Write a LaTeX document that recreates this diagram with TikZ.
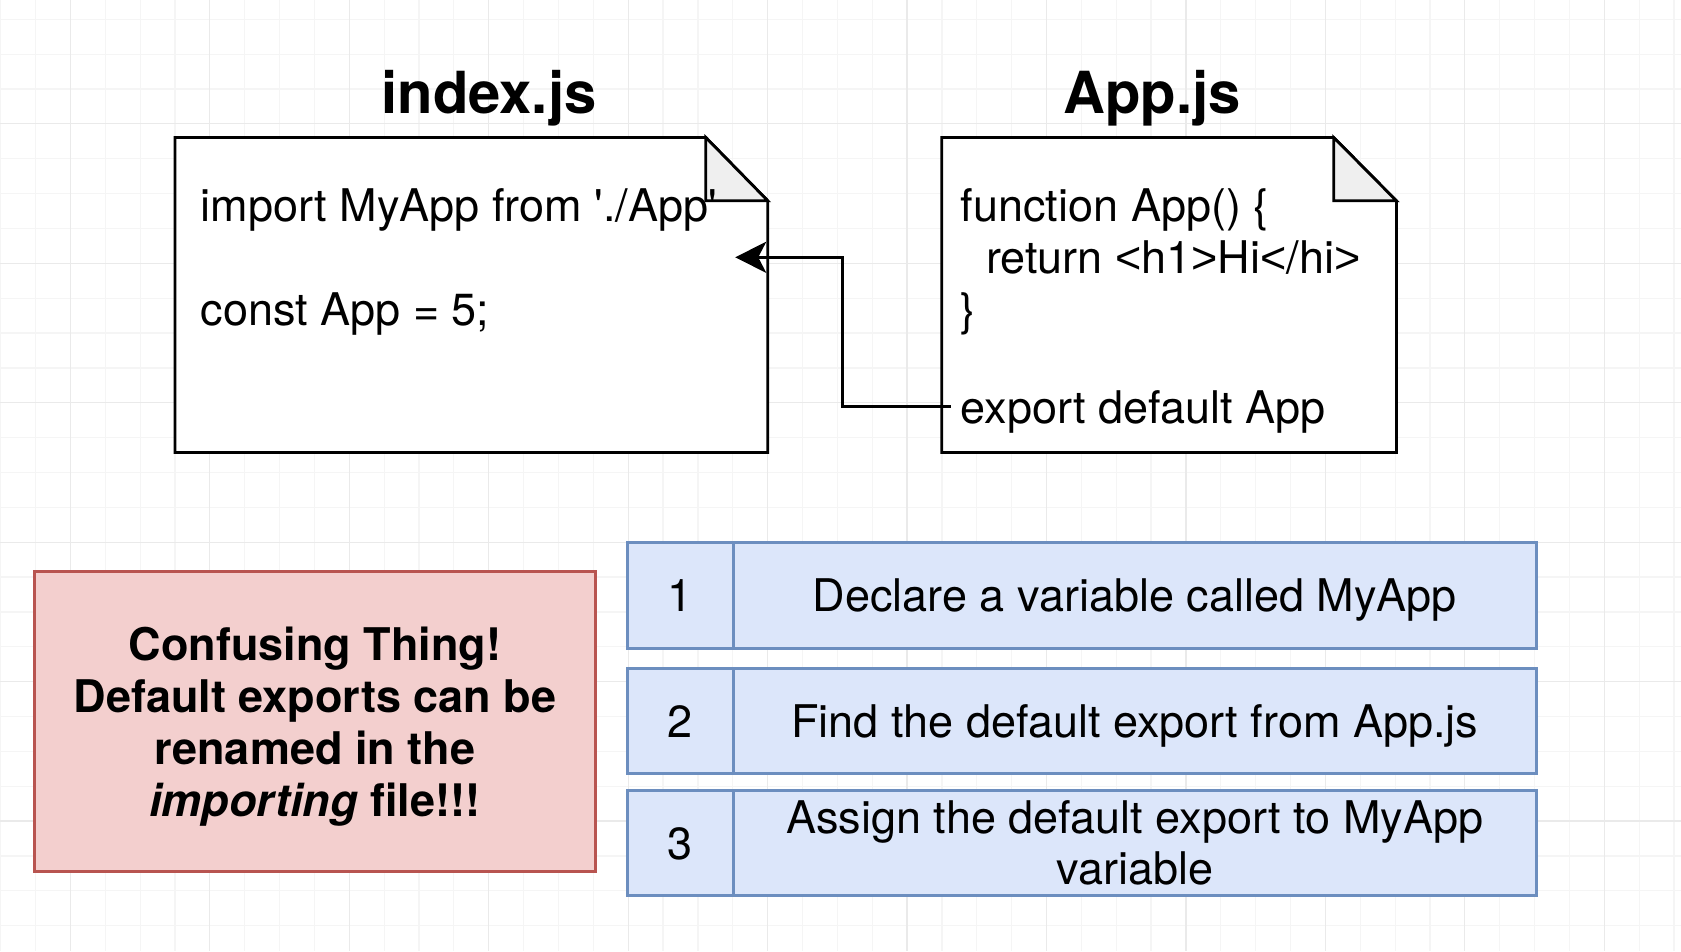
\documentclass[tikz,border=0pt]{standalone}
\usepackage{fontspec}
\setmainfont{TeX Gyre Heros}
\newfontfamily\libsans{Liberation Sans}
\usetikzlibrary{arrows.meta}
\definecolor{gridminor}{HTML}{F5F5F5}
\definecolor{gridmajor}{HTML}{EAEAEA}
\definecolor{foldgray}{HTML}{EFEFEF}
\definecolor{notefill}{HTML}{F3CFCE}
\definecolor{notestroke}{HTML}{B85450}
\definecolor{bfill}{HTML}{DCE6FA}
\definecolor{bstroke}{HTML}{6C8EBF}
\newcommand{\lt}{{\libsans\textless}}
\newcommand{\gt}{{\libsans\textgreater}}
\begin{document}
\begin{tikzpicture}[x=1pt,y=-1pt,
  gridmin/.style={draw=gridminor,line width=1.2pt},
  gridmaj/.style={draw=gridmajor,line width=1.2pt},
  filebox/.style={draw=none,inner sep=0pt},
  fileline/.style={line width=2.8pt,draw=black,fill=white,line join=miter},
  foldfill/.style={fill=foldgray,draw=black,line width=2.8pt,line join=miter},
  title/.style={font=\fontsize{58}{66}\selectfont\bfseries,inner sep=0pt,anchor=base},
  code/.style={font=\fontsize{45}{51.7}\selectfont,inner sep=0pt,anchor=base west},
  conn/.style={line width=2.8pt,draw=black,-{Stealth[length=31pt,width=31pt,inset=8pt]}},
  notebox/.style={draw=notestroke,fill=notefill,line width=3pt,inner sep=0pt},
  notetext/.style={font=\fontsize{45}{52}\selectfont\bfseries,align=center,inner sep=0pt},
  cellbox/.style={draw=bstroke,fill=bfill,line width=3pt,minimum height=105.5pt,inner sep=0pt,font=\fontsize{45}{51.7}\selectfont},
  oneline/.style={text height=32.4pt,text depth=0pt},
  numcell/.style={cellbox,oneline,minimum width=105.4pt},
  txtcell/.style={cellbox,minimum width=803.5pt}
]
\useasboundingbox (0,0) rectangle (1681,951);
\fill[white] (0,0) rectangle (1681,951);
% grid
\foreach \k in {0,...,48} \draw[gridmin] ({0.7+\k*34.86},0) -- ({0.7+\k*34.86},951);
\foreach \k in {0,...,26} \draw[gridmin] (0,{19.3+\k*34.86}) -- (1681,{19.3+\k*34.86});
\foreach \k in {2,6,...,46} \draw[gridmaj] ({0.7+\k*34.86},0) -- ({0.7+\k*34.86},951);
\foreach \k in {3,7,...,23} \draw[gridmaj] (0,{19.3+\k*34.86}) -- (1681,{19.3+\k*34.86});

% titles
\node[title] (tidx) at (489,113.3) {index.js};
\node[title] (tapp) at (1152,113.3) {App.js};

% index.js file
\node[filebox,minimum width=592.4pt,minimum height=314.6pt] (idx) at (471.4,295) {};
\draw[fileline] (idx.north west) -- ([xshift=-62pt]idx.north east) -- ([yshift=-63.3pt]idx.north east) -- (idx.south east) -- (idx.south west) -- cycle;
\draw[foldfill] ([xshift=-62pt]idx.north east) -- ([xshift=-62pt,yshift=-63.3pt]idx.north east) -- ([yshift=-63.3pt]idx.north east) -- cycle;

% App.js file
\node[filebox,minimum width=454.3pt,minimum height=314.6pt] (app) at (1169.05,295) {};
\draw[fileline] (app.north west) -- ([xshift=-62.7pt]app.north east) -- ([yshift=-63.3pt]app.north east) -- (app.south east) -- (app.south west) -- cycle;
\draw[foldfill] ([xshift=-62.7pt]app.north east) -- ([xshift=-62.7pt,yshift=-63.3pt]app.north east) -- ([yshift=-63.3pt]app.north east) -- cycle;

% code texts
\node[code] (imp) at (200.5,221.7) {import MyApp from \textquotesingle./App\textquotesingle};
\node[code] (cst) at (200.5,325) {const App = 5;};
\node[code] (fn) at (960.7,221.7) {function App() \{};
\node[code] (ret) at (986,273.3) {return \lt h1\gt Hi\lt/hi\gt};
\node[code] (brc) at (960.7,325) {\}};
\node[code] (exp) at (960.7,423.3) {export default App};

% connector
\coordinate (src) at ([xshift=9pt,yshift=-111.7pt]app.west);
\coordinate (dst) at ([xshift=-32.6pt,yshift=37.7pt]idx.east);
\draw[conn] (src) -- ++(-108,0) |- (dst);

% note box
\node[notebox,minimum width=560.2pt,minimum height=299.3pt] (note) at (314.9,721.35) {};
\node[notetext] (notet) at ([yshift=-5.3pt]note.center) {Confusing Thing!\\Default exports can be\\renamed in the\\\textit{importing} file!!!};

% steps
\node[numcell] (n1) at (680.3,595.35) {1};
\node[txtcell,oneline] (s1) at (1134.75,595.35) {Declare a variable called MyApp};
\node[numcell] (n2) at (680.3,721) {2};
\node[txtcell,oneline] (s2) at (1134.75,721) {Find the default export from App.js};
\node[numcell] (n3) at (680.3,843) {3};
\node[txtcell,align=center] (s3) at (1134.75,843) {Assign the default export to MyApp\\variable};
\end{tikzpicture}
\end{document}
